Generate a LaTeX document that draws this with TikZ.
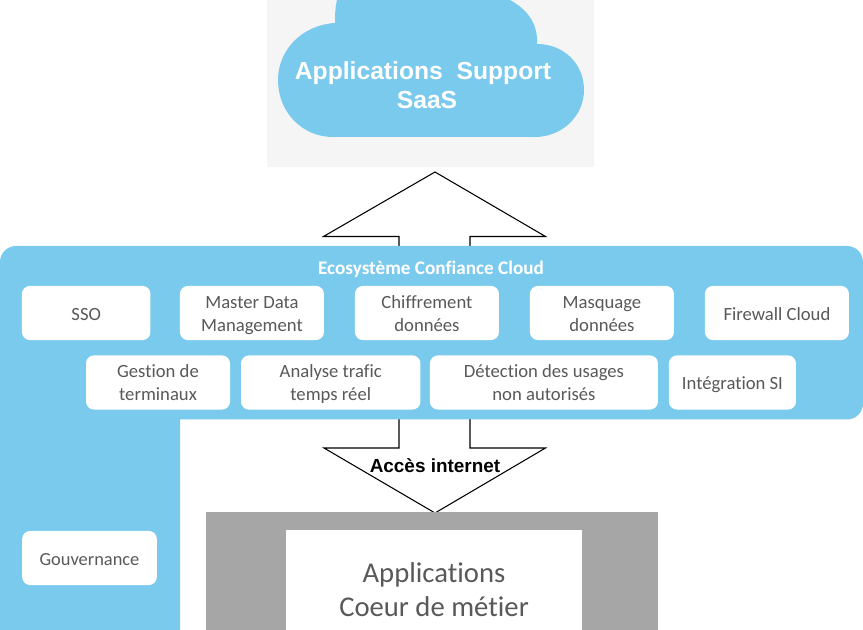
\documentclass[tikz,border=0pt]{standalone}
\usepackage{fontspec}
\setmainfont{Carlito}[Ligatures=NoCommon]
\newfontfamily\arialfont{Liberation Sans}
\usepackage{xcolor}
\usetikzlibrary{positioning}
\definecolor{skyblue}{HTML}{7ACAED}
\definecolor{textgrey}{HTML}{595959}
\definecolor{coregrey}{HTML}{A6A6A6}
\definecolor{cloudbg}{HTML}{F5F5F5}

\begin{document}
\begin{tikzpicture}[
  x=0.75pt, y=-0.75pt,
  whitebox/.style={fill=white, rounded corners=6pt, align=center, inner sep=0pt, outer sep=0pt,
    text=textgrey, font=\fontsize{14}{17}\selectfont, minimum height=40.6pt},
  box/.style={whitebox,
    execute at begin node=\rule{0pt}{30.2pt},
    execute at end node=\rule[-3pt]{0pt}{3pt}},
  onelinebox/.style={whitebox,
    execute at begin node=\rule{0pt}{16.6pt},
    execute at end node=\rule[-6pt]{0pt}{6pt}},
  blockarrow/.style={draw=black, fill=white, line width=0.8pt, line join=miter},
  band/.style={fill=skyblue}
]
\clip (0,0) rectangle (863,630);

% background of the cloud
\node[fill=cloudbg, minimum width=245.25pt, minimum height=125.25pt, inner sep=0pt] (cloudback) at (430.5,83.5) {};
\fill[skyblue] (337,0) .. controls (335,8) and (335,16) .. (335,23)
  .. controls (302,25) and (278,50) .. (278,80)
  .. controls (278,112) and (302,137) .. (333,137)
  -- (535,137) .. controls (562,137) and (584,116) .. (584,90)
  .. controls (584,64) and (564,44) .. (537,44)
  .. controls (538,24) and (528,10) .. (510,0) -- cycle;
\node[text=white, align=center, inner sep=0pt, font=\arialfont\bfseries\fontsize{18.5}{21.6}\selectfont] (saas) at (423,85.5) {Applications\ \ Support\\\hspace*{6pt}SaaS};

% arrows, their shafts end under the band
\draw[blockarrow] (399,250) -- (399,236.5) -- (323.5,236.5) -- (435,172) -- (545.5,236.5) -- (470,236.5) -- (470,250);
\draw[blockarrow] (399,415) -- (399,448) -- (324,448) -- (435,513) -- (545.5,448) -- (470,448) -- (470,415);

% ecosystem band with its left column
\fill[band] (0,630) -- (0,262) [rounded corners=12pt] -- (0,246) -- (863,246) -- (863,419.5) [sharp corners] -- (180,419.5) -- (180,630) -- cycle;
\node[text=white, inner sep=0pt, font=\bfseries\fontsize{14.4}{16}\selectfont] (ecosys) at (431,269.5) {Ecosystème Confiance Cloud};

\node[onelinebox, minimum width=96.4pt] (sso) at (86.2,313) {SSO};
\node[box, minimum width=108pt, right=22.1pt of sso] (mdm) {Master Data\\Management};
\node[box, minimum width=108pt, right=23.25pt of mdm] (chiffre) {Chiffrement\\données};
\node[box, minimum width=108pt, right=23.25pt of chiffre] (masque) {Masquage\\données};
\node[onelinebox, minimum width=108pt, right=23.25pt of masque] (firewall) {Firewall Cloud};

\node[box, minimum width=108pt] (terminaux) at (158,382.5) {Gestion de\\terminaux};
\node[box, minimum width=134.6pt, right=8.25pt of terminaux] (trafic) {Analyse trafic\\temps réel};
\node[box, minimum width=171pt, right=7.1pt of trafic] (usages) {Détection des usages\\non autorisés};
\node[onelinebox, minimum width=95.25pt, right=8.25pt of usages] (integration) {Intégration SI};

\node[onelinebox, minimum width=101pt, font=\fontsize{13.8}{15}\selectfont] (gouv) at (89.5,558) {Gouvernance};

% core applications, cut by the bottom edge
\node[fill=coregrey, minimum width=339.4pt, minimum height=120pt, inner sep=0pt] (core) at (432.2,592) {};
\node[fill=white, minimum width=222pt, minimum height=90pt, inner sep=0pt, align=center, text=textgrey, font=\fontsize{21.5}{25.5}\selectfont] (coeur) at (434,590) {Applications\\Coeur de métier};

\node[text=black, inner sep=0pt, font=\arialfont\bfseries\fontsize{14.2}{16}\selectfont] (acces) at (435,466) {Accès internet};
\end{tikzpicture}
\end{document}
